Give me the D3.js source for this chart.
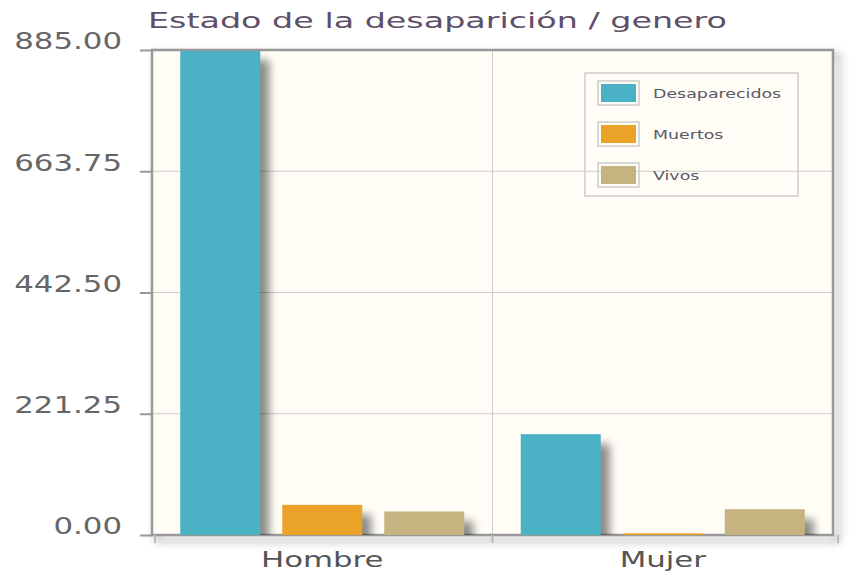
<!DOCTYPE html>
<html lang="es">
<head>
<meta charset="utf-8">
<title>Estado de la desaparición / genero</title>
<script src="https://cdn.jsdelivr.net/npm/d3@7/dist/d3.min.js"></script>
<style>
  body { margin: 0; background: #fff; }
  text { font-family: "DejaVu Sans", Verdana, sans-serif; }
</style>
</head>
<body>
<script>
// data
var categories = ["Hombre", "Mujer"];
var series = ["Desaparecidos", "Muertos", "Vivos"];
var desaparecidos = [885, 184];
var muertos = [55, 3];
var vivos = [43, 47];
var yTicks = [0, 221.25, 442.5, 663.75, 885];
var colors = ["#4bb2c5", "#eaa228", "#c5b47f"];

var values = [desaparecidos, muertos, vivos];
var w = 865, h = 587;
var gLeft = 152, gRight = 833, gTop = 50, gBottom = 535;

var svg = d3.select("body").append("svg")
  .attr("width", w)
  .attr("height", h);

// the reference text is wide, stretch glyphs horizontally
function stretch(sel, f) {
  sel.each(function () {
    var n = this.getComputedTextLength();
    d3.select(this).attr("textLength", n * f).attr("lengthAdjust", "spacingAndGlyphs");
  });
}

var defs = svg.append("defs");
defs.append("filter").attr("id", "blur")
  .attr("x", "-50%").attr("y", "-50%").attr("width", "200%").attr("height", "200%")
  .append("feGaussianBlur").attr("stdDeviation", 4);
defs.append("clipPath").attr("id", "plot")
  .append("rect")
  .attr("x", gLeft).attr("y", gTop + 1)
  .attr("width", gRight - gLeft).attr("height", gBottom - gTop - 1);

var x0 = d3.scaleBand().domain(categories).range([gLeft, gRight]);
var x1 = d3.scaleBand().domain(series).range([0, x0.bandwidth()])
  .paddingInner(0.216).paddingOuter(0.277);
var y = d3.scaleLinear().domain([0, 885]).range([gBottom, gTop]);

// title
svg.append("text")
  .attr("x", 148).attr("y", 28)
  .attr("font-size", 21)
  .attr("fill", "#5e5068")
  .attr("textLength", 579).attr("lengthAdjust", "spacingAndGlyphs")
  .text("Estado de la desaparición / genero");

// frame shadow
svg.append("rect")
  .attr("x", gLeft + 5).attr("y", gTop + 5)
  .attr("width", gRight - gLeft).attr("height", gBottom - gTop)
  .attr("fill", "none")
  .attr("stroke", "#000").attr("stroke-opacity", 0.3)
  .attr("stroke-width", 4)
  .attr("filter", "url(#blur)");

// plot background
svg.append("rect")
  .attr("x", gLeft).attr("y", gTop)
  .attr("width", gRight - gLeft).attr("height", gBottom - gTop)
  .attr("fill", "#fffdf6");

// grid lines
svg.append("g").selectAll("line")
  .data(yTicks.slice(1, -1))
  .join("line")
  .attr("x1", gLeft).attr("x2", gRight)
  .attr("y1", d => y(d)).attr("y2", d => y(d))
  .attr("stroke", "#cccccc");

svg.append("line")
  .attr("x1", x0("Mujer")).attr("x2", x0("Mujer"))
  .attr("y1", gTop).attr("y2", gBottom)
  .attr("stroke", "#cccccc");

// legend (transparent background)
var legend = svg.append("g").attr("transform", "translate(585,73)");
legend.append("rect")
  .attr("width", 213).attr("height", 123)
  .attr("fill", "none").attr("stroke", "#cccccc").attr("stroke-width", 1.5);
series.forEach(function (s, i) {
  var g = legend.append("g").attr("transform", "translate(13," + (8 + i * 41) + ")");
  g.append("rect")
    .attr("width", 41).attr("height", 24)
    .attr("fill", "none").attr("stroke", "#cccccc").attr("stroke-width", 1.5);
  g.append("rect")
    .attr("x", 3).attr("y", 3).attr("width", 35).attr("height", 18)
    .attr("fill", colors[i]);
  g.append("text")
    .attr("class", "leg")
    .attr("x", 55).attr("y", 17)
    .attr("font-size", 12)
    .attr("fill", "#5a5a66")
    .text(s);
});
stretch(legend.selectAll("text.leg"), 1.45);

// frame
svg.append("rect")
  .attr("x", gLeft).attr("y", gTop)
  .attr("width", gRight - gLeft).attr("height", gBottom - gTop)
  .attr("fill", "none")
  .attr("stroke", "#999").attr("stroke-width", 2.5);

var rows = [];
categories.forEach(function (c, ci) {
  series.forEach(function (s, si) {
    rows.push({ cat: c, ser: s, v: values[si][ci], color: colors[si] });
  });
});

var plot = svg.append("g").attr("clip-path", "url(#plot)");

// soft bar shadows, down and to the right
plot.append("g")
  .attr("filter", "url(#blur)")
  .selectAll("rect")
  .data(rows)
  .join("rect")
  .attr("x", d => x0(d.cat) + x1(d.ser) + 9)
  .attr("y", d => y(d.v) + 10)
  .attr("width", x1.bandwidth())
  .attr("height", d => gBottom - y(d.v))
  .attr("fill", "#000")
  .attr("fill-opacity", 0.45);

plot.append("g").selectAll("rect")
  .data(rows)
  .join("rect")
  .attr("x", d => x0(d.cat) + x1(d.ser))
  .attr("y", d => y(d.v))
  .attr("width", x1.bandwidth())
  .attr("height", d => gBottom - y(d.v))
  .attr("fill", d => d.color);

// y axis
var yAxis = d3.axisLeft(y)
  .tickValues(yTicks)
  .tickFormat(d3.format(".2f"))
  .tickSize(12)
  .tickPadding(18);
var ya = svg.append("g")
  .attr("transform", "translate(" + gLeft + ",0)")
  .call(yAxis);
ya.select(".domain").remove();
ya.selectAll(".tick line").attr("stroke", "#999").attr("stroke-width", 2);
ya.selectAll(".tick text")
  .attr("font-size", 23)
  .attr("fill", "#666")
  .attr("dy", "-0.05em");
stretch(ya.selectAll(".tick text"), 1.34);

// x axis: ticks on category boundaries, labels centred
var bounds = [gLeft + 3, x0("Mujer"), gRight + 5];
svg.append("g").selectAll("line")
  .data(bounds)
  .join("line")
  .attr("x1", d => d).attr("x2", d => d)
  .attr("y1", gBottom).attr("y2", gBottom + 8)
  .attr("stroke", "#bbb").attr("stroke-width", 2);

var xAxis = d3.axisBottom(x0).tickSize(0).tickPadding(16);
var xa = svg.append("g")
  .attr("transform", "translate(0," + gBottom + ")")
  .call(xAxis);
xa.select(".domain").remove();
xa.selectAll(".tick text")
  .attr("font-size", 22)
  .attr("fill", "#555");
stretch(xa.selectAll(".tick text"), 1.4);
</script>
</body>
</html>
